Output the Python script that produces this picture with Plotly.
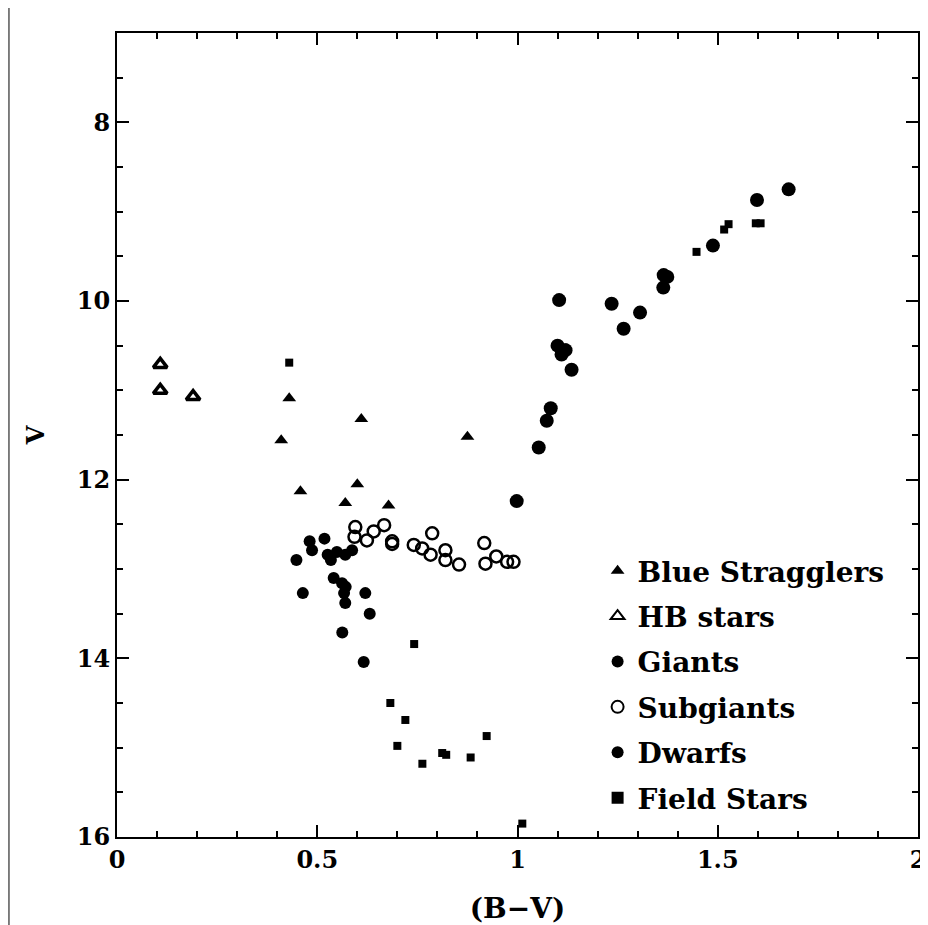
import plotly.graph_objects as go

FONT = "DejaVu Serif"

# Blue stragglers (filled triangles)
bs_bv = [0.43, 0.41, 0.61, 0.458, 0.60, 0.57, 0.678, 0.875]
bs_v = [11.09, 11.56, 11.32, 12.13, 12.05, 12.26, 12.29, 11.52]

# HB stars
hb_bv = [0.108, 0.108, 0.19]
hb_v = [10.71, 11.00, 11.07]

# Giants
gi_bv = [1.677, 1.598, 1.488, 1.365, 1.374, 1.364, 1.235, 1.306, 1.265,
         1.104, 1.10, 1.12, 1.11, 1.135, 1.083, 1.073, 1.053, 0.998]
gi_v = [8.75, 8.87, 9.38, 9.71, 9.73, 9.85, 10.03, 10.13, 10.31,
        9.99, 10.50, 10.55, 10.60, 10.77, 11.20, 11.34, 11.64, 12.24]

# Subgiants (open circles)
sg_bv = [0.595, 0.593, 0.624, 0.641, 0.667, 0.687, 0.687, 0.741, 0.762, 0.783,
         0.787, 0.82, 0.82, 0.854, 0.917, 0.92, 0.947, 0.974, 0.99]
sg_v = [12.53, 12.64, 12.68, 12.58, 12.51, 12.69, 12.72, 12.73, 12.77, 12.84,
        12.60, 12.79, 12.90, 12.95, 12.71, 12.94, 12.86, 12.92, 12.92]

# Dwarfs
dw_bv = [0.448, 0.464, 0.481, 0.487, 0.518, 0.526, 0.534, 0.549, 0.57, 0.587,
         0.541, 0.562, 0.571, 0.567, 0.57, 0.62, 0.631, 0.5625, 0.616]
dw_v = [12.90, 13.27, 12.69, 12.79, 12.66, 12.84, 12.90, 12.81, 12.84, 12.79,
        13.10, 13.16, 13.20, 13.27, 13.38, 13.27, 13.50, 13.71, 14.04]

# Field stars
fs_bv = [0.43, 0.742, 0.6825, 0.72, 0.70, 0.7625, 0.812, 0.822, 0.883, 0.923,
         1.012, 1.115, 1.447, 1.516, 1.527, 1.595, 1.607]
fs_v = [10.69, 13.84, 14.50, 14.69, 14.98, 15.18, 15.06, 15.08, 15.11, 14.87,
        15.85, 10.52, 9.45, 9.20, 9.14, 9.13, 9.13]

x_ticks = [0, 0.5, 1, 1.5, 2]
x_labels = ["0", "0.5", "1", "1.5", "2"]
y_ticks = [8, 10, 12, 14, 16]
y_labels = ["8", "10", "12", "14", "16"]

series = [
    ("Blue Stragglers", bs_bv, bs_v, dict(symbol="triangle-up", size=12, color="black")),
    ("HB stars", hb_bv, hb_v, dict(symbol="triangle-up-open", size=12, color="black", line=dict(width=3.5))),
    ("Giants", gi_bv, gi_v, dict(symbol="circle", size=14, color="black")),
    ("Subgiants", sg_bv, sg_v, dict(symbol="circle-open", size=12, color="black", line=dict(width=2.5))),
    ("Dwarfs", dw_bv, dw_v, dict(symbol="circle", size=12, color="black")),
    ("Field Stars", fs_bv, fs_v, dict(symbol="square", size=8, color="black")),
]

fig = go.Figure()
for i, (name, x, y, marker) in enumerate(series):
    fig.add_trace(go.Scatter(x=x, y=y, mode="markers", name=f"<b>{name}</b>",
                             marker=marker, legendgroup=str(i)))

axis_common = dict(
    showline=True, linecolor="black", linewidth=2, mirror="allticks",
    ticks="inside", ticklen=12, tickwidth=1.5, tickcolor="black",
    showgrid=False, zeroline=False, automargin=False,
    tickfont=dict(family=FONT, size=24, color="black"),
)
minor_ticks = dict(ticks="inside", ticklen=6, tickcolor="black", tickwidth=1.5)

fig.update_xaxes(range=[0, 2], tickvals=x_ticks, ticktext=[f"<b>{t}</b>" for t in x_labels],
                 minor=dict(dtick=0.1, **minor_ticks),
                 title=dict(text="<b>(B−V)</b>", standoff=29,
                            font=dict(family=FONT, size=28, color="black")),
                 **axis_common)
fig.update_yaxes(range=[16, 7], tickvals=y_ticks, ticktext=[f"<b>{t}</b>" for t in y_labels],
                 minor=dict(dtick=0.5, **minor_ticks),
                 title=dict(text="<b>V</b>", standoff=25,
                            font=dict(family=FONT, size=24, color="black")),
                 **axis_common)

# thin grey frame line at the left edge of the scanned figure
fig.add_shape(type="line", xref="paper", yref="paper", x0=-0.135, x1=-0.135, y0=-0.12, y1=1.04,
              line=dict(color="#777777", width=2))

fig.update_layout(
    width=920, height=917,
    margin=dict(l=109, r=10, t=25, b=88),
    paper_bgcolor="white", plot_bgcolor="white",
    font=dict(family=FONT, color="black"),
    legend=dict(x=0.600, y=0.362, xanchor="left", yanchor="top",
                bgcolor="rgba(0,0,0,0)", font=dict(family=FONT, size=28, color="black"),
                traceorder="grouped", tracegroupgap=6, itemsizing="constant"),
)

fig.write_html("out.html")
